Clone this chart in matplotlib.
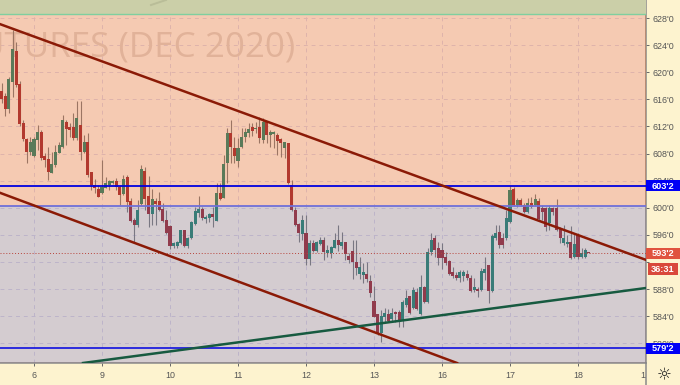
import matplotlib
matplotlib.use("Agg")
import matplotlib.pyplot as plt
from matplotlib.patches import Rectangle
import numpy as np

# Candles
opens = [617.2, 616.5, 614.6, 618.6, 623.1, 618.3, 612.5, 610.1, 608.2, 607.6,
         610.0, 611.2, 607.6, 607.2, 605.1, 606.3, 608.1, 609.0, 612.7, 611.9,
         611.9, 610.3, 612.2, 608.2, 609.7, 605.3, 603.4, 602.8, 602.2, 602.9,
         603.4, 603.7, 603.9, 603.1, 602.0, 604.5, 601.0, 598.2, 597.4, 600.6,
         605.4, 601.7, 599.1, 601.0, 601.0, 599.8, 598.2, 597.3, 594.4, 594.4,
         594.8, 596.7, 594.4, 595.5, 597.6, 599.2, 599.8, 598.3, 598.5, 599.1,
         598.0, 602.2, 601.4, 606.6, 611.0, 608.8, 606.9, 609.0, 610.4, 611.0,
         611.9, 611.6, 611.9, 610.0, 612.7, 610.7, 610.9, 610.7, 610.1, 608.8,
         609.5, 603.4, 599.7, 597.6, 596.1, 596.3, 592.4, 594.8, 593.6, 594.7,
         595.2, 593.3, 593.3, 594.1, 595.2, 594.4, 594.9, 592.9, 593.6, 592.0,
         590.2, 590.1, 590.2, 589.2, 586.2, 584.3, 581.5, 583.9, 584.3, 583.6,
         584.6, 584.6, 583.4, 585.6, 587.0, 585.2, 587.6, 584.3, 588.3, 586.1,
         593.5, 595.5, 594.1, 593.8, 592.7, 592.1, 590.5, 590.1, 589.6, 589.9,
         590.2, 589.6, 587.9, 588.0, 587.9, 590.4, 591.6, 587.7, 595.5, 596.4,
         595.5, 595.5, 597.9, 602.8, 600.4, 601.1, 600.4, 599.4, 600.7, 600.4,
         601.0, 600.0, 600.0, 597.7, 600.0, 600.0, 597.0, 594.8, 594.7, 594.9,
         592.7, 596.0, 592.7, 592.7, 593.5]
highs = [618.4, 617.0, 619.3, 626.2, 624.5, 618.7, 613.0, 610.3, 610.4, 610.4,
         612.2, 611.5, 608.1, 609.0, 608.2, 609.3, 609.7, 613.7, 613.0, 612.5,
         614.0, 615.8, 615.8, 610.7, 611.0, 605.3, 604.2, 603.4, 607.1, 604.5,
         604.1, 604.1, 604.4, 603.4, 604.8, 604.8, 601.4, 598.5, 601.1, 606.3,
         606.0, 604.7, 602.8, 601.4, 602.3, 600.7, 599.7, 597.4, 594.9, 595.1,
         596.7, 596.7, 595.7, 598.0, 600.1, 601.7, 600.1, 598.9, 599.2, 600.1,
         603.7, 603.7, 607.8, 611.8, 613.0, 610.4, 610.3, 611.8, 611.8, 612.5,
         612.5, 612.7, 613.4, 613.2, 612.8, 611.5, 611.3, 611.0, 610.3, 609.7,
         609.5, 604.1, 600.1, 597.7, 598.9, 598.9, 595.2, 595.2, 595.1, 595.7,
         595.7, 594.5, 594.4, 596.3, 597.4, 596.4, 594.9, 593.3, 595.2, 595.2,
         592.7, 591.8, 592.0, 590.1, 588.4, 584.3, 584.9, 585.2, 585.1, 585.2,
         584.8, 584.9, 586.4, 587.9, 587.0, 588.3, 588.2, 590.1, 588.4, 594.1,
         596.3, 596.0, 594.9, 594.8, 593.5, 592.3, 591.3, 590.5, 590.8, 590.8,
         590.8, 590.1, 589.6, 588.3, 591.1, 592.7, 591.6, 596.1, 597.4, 597.4,
         596.3, 599.7, 603.2, 603.1, 601.4, 601.4, 600.7, 601.4, 601.6, 602.0,
         601.4, 600.4, 600.1, 600.4, 600.1, 601.3, 597.2, 597.4, 596.0, 597.3,
         596.3, 596.3, 594.1, 594.1, 593.5]
lows = [615.5, 613.5, 614.0, 616.3, 617.8, 612.1, 609.8, 606.6, 607.8, 607.5,
        608.5, 607.1, 606.0, 604.1, 605.1, 606.0, 608.1, 608.8, 609.3, 610.4,
        610.0, 610.0, 607.1, 608.1, 604.5, 602.6, 602.2, 601.6, 602.0, 602.9,
        602.6, 603.5, 602.6, 600.4, 601.9, 599.4, 597.9, 594.8, 597.2, 600.4,
        599.7, 597.2, 597.4, 597.4, 599.5, 597.9, 596.1, 593.9, 594.1, 594.1,
        594.7, 594.2, 594.1, 595.4, 597.4, 598.6, 598.2, 597.7, 597.9, 597.2,
        598.0, 601.1, 601.4, 603.7, 606.6, 606.6, 606.0, 608.8, 609.7, 610.4,
        610.6, 611.0, 609.5, 609.5, 609.5, 609.0, 608.8, 607.8, 607.5, 607.3,
        603.5, 599.5, 597.3, 594.9, 595.2, 591.6, 591.6, 593.5, 593.5, 594.5,
        592.3, 592.7, 592.6, 594.1, 593.6, 593.9, 592.3, 591.8, 589.5, 590.1,
        589.5, 588.9, 589.0, 586.8, 583.9, 581.2, 580.2, 583.1, 583.1, 583.1,
        583.1, 582.4, 582.4, 585.3, 584.3, 585.1, 584.9, 584.2, 585.9, 585.9,
        593.0, 592.7, 591.6, 591.0, 591.6, 590.1, 589.6, 589.3, 589.0, 589.2,
        589.3, 587.6, 587.6, 586.8, 587.7, 589.3, 585.9, 587.6, 595.2, 594.1,
        594.1, 595.2, 597.7, 600.3, 600.1, 600.3, 599.2, 599.2, 600.0, 600.3,
        598.2, 598.2, 596.6, 596.7, 598.9, 596.6, 594.8, 594.5, 594.2, 592.4,
        592.6, 592.4, 592.6, 592.6, 593.3]
closes = [616.0, 614.6, 619.0, 623.4, 618.1, 612.4, 610.1, 608.2, 609.7, 610.1,
          611.2, 607.3, 607.1, 605.3, 606.5, 608.2, 609.3, 613.0, 611.6, 611.5,
          610.3, 613.2, 608.2, 609.7, 604.8, 603.4, 602.9, 601.6, 603.1, 603.7,
          603.9, 603.9, 603.1, 601.9, 604.2, 600.8, 598.0, 597.4, 599.7, 605.7,
          601.3, 599.1, 601.3, 600.6, 599.7, 598.0, 596.3, 594.4, 594.8, 594.9,
          596.7, 594.4, 595.5, 597.9, 599.5, 599.8, 598.5, 598.6, 599.1, 598.6,
          602.2, 601.3, 606.5, 611.0, 609.0, 607.6, 608.8, 610.4, 611.2, 611.6,
          611.3, 611.8, 610.3, 612.7, 610.7, 611.2, 611.2, 609.8, 609.5, 609.7,
          603.7, 599.7, 597.4, 596.3, 598.2, 592.4, 594.8, 593.6, 594.9, 595.2,
          593.5, 593.8, 594.2, 595.2, 594.5, 594.9, 593.2, 592.3, 592.0, 591.1,
          591.3, 590.5, 589.5, 587.4, 583.9, 581.5, 584.0, 584.5, 583.3, 584.5,
          584.3, 583.4, 586.1, 586.7, 584.5, 587.9, 585.1, 588.3, 586.1, 593.5,
          595.2, 593.8, 592.6, 592.6, 591.8, 590.2, 589.9, 589.6, 590.5, 590.5,
          589.6, 587.7, 588.3, 587.7, 590.7, 591.0, 587.7, 595.8, 596.3, 594.5,
          594.5, 598.5, 602.6, 600.4, 601.1, 600.4, 599.4, 600.7, 600.1, 601.3,
          598.3, 599.4, 597.2, 600.0, 599.4, 596.7, 595.5, 595.5, 594.9, 592.6,
          594.7, 592.7, 593.3, 593.8, 593.3]

# Session ticks (candle index) and labels
tick_bars = [9, 28, 47, 66, 85, 104, 123, 142, 161]
tick_days = ["6", "9", "10", "11", "12", "13", "16", "17", "18"]
price_ticks = [580, 584, 588, 592, 596, 600, 604, 608, 612, 616, 620, 624, 628]
hidden_ticks = [592]  # sits behind the price and countdown boxes

# Levels and trend lines
top_zone = 628.6
mid_zone = 600.2
level_upper = 603.25
level_lower = 579.25
last_price = 593.25
countdown = "36:31"
upper_bars = [-0.5, 180]
upper_prices = [627.1, 592.3]
lower_bars = [-0.5, 127.2]
lower_prices = [602.2, 577.08]
support_bars = [22.7, 180]
support_prices = [577.08, 588.15]

BG = "#fdf3cf"
AXIS = "#8a8a8a"
YMIN, YMAX = 577.08, 630.66
XMIN, XMAX = -0.5, 180


def price_box(ax, price, text, color, x0=1.0, x1=34 / 646):
    # label box sitting on the price scale
    trans = ax.get_yaxis_transform()
    half = 0.85
    ax.add_patch(Rectangle((x0, price - half), x1, half * 2, transform=trans,
                           facecolor=color, edgecolor="none", clip_on=False, zorder=8))
    ax.text(x0 + x1 / 2, price - 0.05, text, transform=trans, color="white", fontsize=6.6,
            fontweight="bold", ha="center", va="center", clip_on=False, zorder=9)


plt.rcParams["font.family"] = ["Liberation Sans", "DejaVu Sans"]
fig = plt.figure(figsize=(6.8, 3.85), dpi=100, facecolor=BG)
ax = fig.add_axes([0, 22 / 385, 646 / 680, 363 / 385])
ax.set_facecolor("white")
ax.set_xlim(XMIN, XMAX)
ax.set_ylim(YMIN, YMAX)

# grid and watermark go under the zones
ax.set_axisbelow(True)
ax.grid(True, color="#dcdcf5", lw=0.7, ls=(0, (4, 4)), zorder=0)
ax.text(295 / 646, 1 - 47 / 363, "FUTURES (DEC 2020)", transform=ax.transAxes, fontsize=25.2,
        family="Open Sans", color="#e2dcdc", ha="right", va="center", zorder=1, clip_on=True)

# candles
idx = np.arange(len(opens))
o = np.array(opens)
c = np.array(closes)
up = c >= o
ax.vlines(idx, lows, highs, color="#7d858f", lw=0.8, zorder=2)
ax.bar(idx[up], np.maximum(c - o, 0.2)[up], bottom=o[up], width=0.85, color="#218c80", zorder=2.5)
ax.bar(idx[~up], np.maximum(o - c, 0.2)[~up], bottom=c[~up], width=0.85, color="#9e2f42", zorder=2.5)

# translucent zones laid over the candles
ax.axhspan(mid_zone, top_zone, color="#e15200", alpha=0.3, lw=0, zorder=3)
ax.axhspan(YMIN, mid_zone, color="#735866", alpha=0.3, lw=0, zorder=3)
ax.axhspan(top_zone, YMAX, color="#cbcfa8", lw=0, zorder=3)
ax.axhline(top_zone, color="#7fcf9f", lw=1.0, zorder=4)
ax.axhline(mid_zone, color="#7070d8", lw=1.3, zorder=4)
# fragment of the second watermark line, cut by the top edge
ax.plot([151 / 646, 166 / 646], [1 - 5 / 363, 1.0], transform=ax.transAxes,
        color="#b9bd98", lw=1.4, zorder=4)

ax.axhline(level_upper, color="#0000e0", lw=1.3, zorder=5)
ax.axhline(level_lower, color="#0000e0", lw=1.1, zorder=5)
ax.axhline(last_price, color="#b8433a", lw=0.7, ls=(0, (1, 2)), zorder=5)

ax.plot(upper_bars, upper_prices, color="#8b1a06", lw=1.8, zorder=6)
ax.plot(lower_bars, lower_prices, color="#8b1a06", lw=1.8, zorder=6)
ax.plot(support_bars, support_prices, color="#175a40", lw=1.8, zorder=6)

# axes
ax.yaxis.tick_right()
ax.set_yticks(price_ticks)
ax.set_yticklabels(["" if p in hidden_ticks else f"{p}'0" for p in price_ticks])
ax.set_xticks(tick_bars)
ax.set_xticklabels(tick_days)
ax.tick_params(axis="y", length=2.5, width=0.7, color="#666666", labelcolor="#555555",
               labelsize=6.4, pad=2.5)
ax.tick_params(axis="x", length=2.5, width=0.7, color="#666666", labelcolor="#555555",
               labelsize=6.4, pad=3.5)
for side in ["left", "top"]:
    ax.spines[side].set_visible(False)
for side in ["right", "bottom"]:
    ax.spines[side].set_color(AXIS)
    ax.spines[side].set_linewidth(1.1)

# right hand scale labels
price_box(ax, level_upper, "603'2", "#0000f5")
price_box(ax, last_price, "593'2", "#e0533f")
price_box(ax, level_lower, "579'2", "#0000f5")
price_box(ax, 590.95, countdown, "#d9483b", x0=1 + 2 / 646, x1=30 / 646)

# the clipped next session label, separator and settings glyph
fig.text(643 / 680, 10 / 385, "1", color="#555555", fontsize=6.4, ha="center", va="center")
fig.add_artist(plt.Line2D([646 / 680, 646 / 680], [0, 22 / 385], color=AXIS, lw=1.1))
fig.text(664 / 680, 10 / 385, "\u263c", family="DejaVu Sans", color="#222222", fontsize=12,
         ha="center", va="center")

fig.savefig("out.png", dpi=100, facecolor=BG)
